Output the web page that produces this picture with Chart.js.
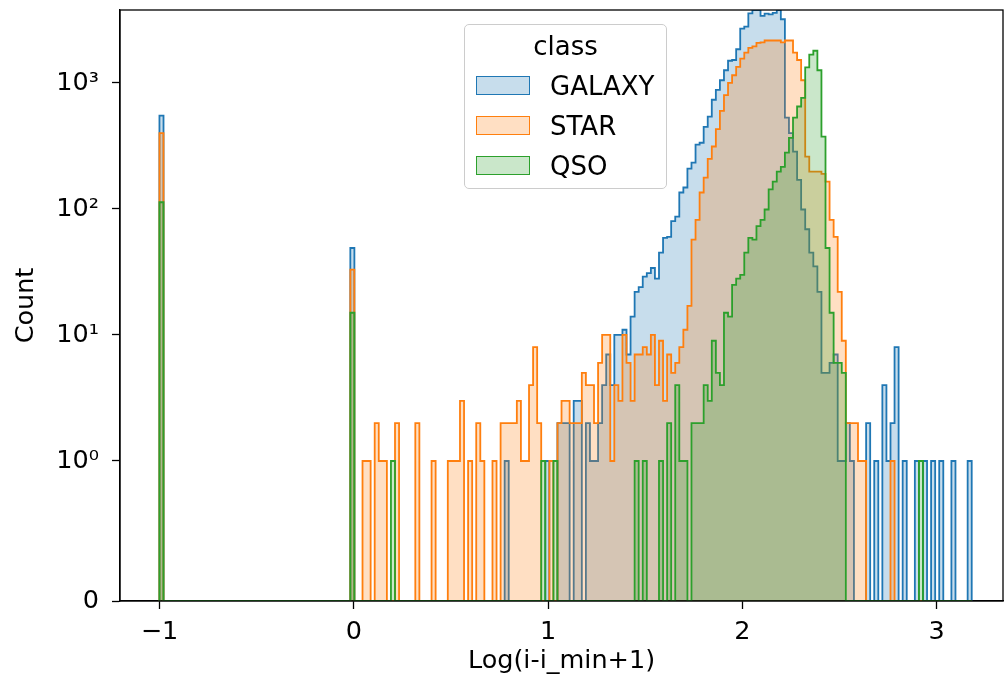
<!DOCTYPE html>
<html>
<head>
<meta charset="utf-8">
<script src="https://cdn.jsdelivr.net/npm/chart.js@4.4.1/dist/chart.umd.min.js"></script>
<style>
  body { margin: 0; background: #fff; }
  #wrap { position: relative; width: 1005px; height: 690px; }
  #legend {
    position: absolute; left: 464px; top: 24px; width: 201px; height: 163px;
    border: 1px solid #cccccc; border-radius: 5px; background: rgba(255,255,255,0.8);
    font-family: "DejaVu Sans", sans-serif; font-size: 26px; color: #000;
  }
  #legend .ttl { position: absolute; left: 0; width: 100%; top: 6px; text-align: center; }
  #legend .row { position: absolute; left: 11px; height: 30px; line-height: 30px; }
  #legend .sw { position: absolute; left: 0; top: 5px; width: 52px; height: 17px; border: 1.8px solid; }
  #legend .lbl { position: absolute; left: 74px; white-space: nowrap; }
</style>
</head>
<body>
<div id="wrap">
  <canvas id="chart" width="1005" height="690"></canvas>
  <div id="legend"></div>
</div>
<script>
// histogram bins: 200 equal bins from -1 to 3.18
const binStart = -1;
const binWidth = 0.0209;

const classes = ['GALAXY', 'STAR', 'QSO'];
const lineColors = ['#1f77b4', '#ff7f0e', '#2ca02c'];
const fillColors = ['rgba(31,119,180,0.25)', 'rgba(255,127,14,0.25)', 'rgba(44,160,44,0.25)'];

const galaxyCounts = [
  550,0,0,0,0,0,0,0,0,0,
  0,0,0,0,0,0,0,0,0,0,
  0,0,0,0,0,0,0,0,0,0,
  0,0,0,0,0,0,0,0,0,0,
  0,0,0,0,0,0,0,49,0,0,
  0,0,0,0,0,0,0,0,0,0,
  0,0,0,0,0,0,0,0,0,0,
  0,0,0,0,0,0,0,0,0,0,
  0,0,0,0,0,1,0,0,0,0,
  0,0,0,0,0,1,0,0,2,2,
  2,0,3,3,0,2,1,1,2,4,
  7,4,10,10,11,7,14,22,24,29,
  31,34,28,45,59,60,80,87,135,148,
  209,233,324,335,448,540,735,881,1050,1260,
  1500,1520,1850,2700,2800,3560,3790,3790,3400,3550,
  3500,3600,3790,3200,530,400,285,170,99,69,
  45,35,22,5,5,6,7,1,1,2,
  1,0,0,0,2,0,1,0,4,1,
  2,8,0,1,0,0,1,0,1,0,
  1,0,1,0,0,1,0,0,0,1
];

const starCounts = [
  400,0,0,0,0,0,0,0,0,0,
  0,0,0,0,0,0,0,0,0,0,
  0,0,0,0,0,0,0,0,0,0,
  0,0,0,0,0,0,0,0,0,0,
  0,0,0,0,0,0,0,33,0,0,
  1,1,0,2,1,1,0,0,2,0,
  0,0,0,2,0,0,0,1,0,0,
  0,1,1,1,3,0,1,0,2,1,
  0,0,1,0,2,2,2,2,3,1,
  1,4,8,2,0,0,1,0,2,3,
  3,2,2,2,5,4,4,2,6,10,
  10,1,4,3,10,6,3,7,7,8,
  7,10,4,9,3,7,5,6,8,11,
  17,57,82,135,177,250,313,430,600,800,
  1000,1150,1340,1560,1740,1900,1950,2080,2100,2170,
  2170,2170,2170,2100,2170,2170,1740,1520,1050,260,
  198,198,198,190,165,82,60,22,9,2,
  2,2,1,1,0,0,0,0,0,0,
  1,0,0,0,0,0,0,0,0,0,
  0,0,0,0,0,0,0,0,0,0
];

const qsoCounts = [
  113,0,0,0,0,0,0,0,0,0,
  0,0,0,0,0,0,0,0,0,0,
  0,0,0,0,0,0,0,0,0,0,
  0,0,0,0,0,0,0,0,0,0,
  0,0,0,0,0,0,0,15,0,0,
  0,0,0,0,0,0,0,1,0,0,
  0,0,0,0,0,0,0,0,0,0,
  0,0,0,0,0,0,0,0,0,0,
  0,0,0,0,0,0,0,0,0,0,
  0,0,0,0,1,0,0,1,0,0,
  0,0,0,0,0,0,0,0,0,0,
  0,0,0,0,0,0,0,1,0,1,
  0,0,0,1,0,2,0,4,1,1,
  0,2,2,2,4,3,9,5,4,15,
  14,25,28,30,45,59,57,73,82,99,
  143,165,198,216,280,366,530,650,760,1330,
  1680,1800,1260,375,49,15,6,6,5,0,
  0,0,0,0,0,0,0,0,0,0,
  0,0,0,0,0,0,0,1,0,0,
  0,0,0,0,0,0,0,0,0,0
];

const xTicks = [-1, 0, 1, 2, 3];
const yTicks = [0, 1, 10, 100, 1000];
const yTickLabels = ['0', '10\u2070', '10\u00b9', '10\u00b2', '10\u00b3'];
const xLabel = 'Log(i-i_min+1)';
const yLabel = 'Count';
const xMin = -1.203, xMax = 3.341;
const yMin = 0, yMax = 3790;

// symlog scale like matplotlib's (base 10, linthresh 1, linscale 1)
const LINSCALE = 1 / (1 - 1 / 10);
function symT(v) {
  const a = Math.abs(v);
  const t = a <= 1 ? a * LINSCALE : LINSCALE + Math.log10(a);
  return v < 0 ? -t : t;
}
function symInv(t) {
  const a = Math.abs(t);
  const v = a <= LINSCALE ? a / LINSCALE : Math.pow(10, a - LINSCALE);
  return t < 0 ? -v : v;
}

class SymlogScale extends Chart.LinearScale {
  buildTicks() {
    return yTicks.map(v => ({ value: v }));
  }
  configure() {
    super.configure();
    this._t0 = symT(this.min);
    this._t1 = symT(this.max);
  }
  getPixelForValue(v) {
    return this.getPixelForDecimal((symT(v) - this._t0) / (this._t1 - this._t0));
  }
  getValueForPixel(p) {
    return symInv(this._t0 + this.getDecimalForPixel(p) * (this._t1 - this._t0));
  }
}
SymlogScale.id = 'symlog';
SymlogScale.defaults = {};
Chart.register(SymlogScale);

function stepPoints(counts) {
  const pts = [{ x: binStart, y: 0 }];
  counts.forEach((c, i) => pts.push({ x: binStart + i * binWidth, y: c }));
  const end = binStart + counts.length * binWidth;
  pts.push({ x: end, y: counts[counts.length - 1] });
  pts.push({ x: end, y: 0 });
  return pts;
}

const seriesCounts = [galaxyCounts, starCounts, qsoCounts];

const spines = {
  id: 'spines',
  afterDatasetsDraw(chart) {
    const { ctx, chartArea: a } = chart;
    ctx.save();
    ctx.strokeStyle = '#000';
    ctx.lineWidth = 1.3;
    ctx.strokeRect(a.left, a.top, a.right - a.left, a.bottom - a.top);
    ctx.restore();
  }
};

const font = { family: '"DejaVu Sans", sans-serif', size: 25.5 };

new Chart(document.getElementById('chart'), {
  type: 'line',
  data: {
    datasets: classes.map((name, k) => ({
      label: name,
      data: stepPoints(seriesCounts[k]),
      borderColor: lineColors[k],
      backgroundColor: fillColors[k],
      borderWidth: 1.8,
      fill: 'origin',
      stepped: 'before',
      pointRadius: 0,
      tension: 0,
      order: 3 - k
    }))
  },
  options: {
    responsive: false,
    animation: false,
    layout: { padding: { top: 10, right: 2, left: 0, bottom: 0 } },
    plugins: { legend: { display: false }, tooltip: { enabled: false } },
    scales: {
      x: {
        type: 'linear', min: xMin, max: xMax,
        afterBuildTicks: s => { s.ticks = xTicks.map(v => ({ value: v })); },
        afterFit: s => { s.height = 89; s.paddingLeft = 0; s.paddingRight = 0; },
        grid: { drawOnChartArea: false, drawTicks: true, tickLength: 8, tickWidth: 1.3, tickColor: '#000' },
        border: { display: true, color: '#000', width: 1.3 },
        ticks: {
          font, color: '#000', padding: 8, maxRotation: 0, autoSkip: false,
          callback: v => (v < 0 ? '\u2212' + Math.abs(v) : String(v))
        },
        title: { display: true, text: xLabel, font, color: '#000', padding: { top: 0, bottom: 13 } }
      },
      y: {
        type: 'symlog', min: yMin, max: yMax,
        afterFit: s => { s.width = 120; s.paddingTop = 0; s.paddingBottom = 0; },
        grid: { drawOnChartArea: false, drawTicks: true, tickLength: 8, tickWidth: 1.3, tickColor: '#000' },
        border: { display: true, color: '#000', width: 1.3 },
        ticks: {
          font, color: '#000', padding: 13, autoSkip: false,
          callback: v => yTickLabels[yTicks.indexOf(v)]
        },
        title: { display: true, text: yLabel, font, color: '#000', padding: { top: 11, bottom: 0 } }
      }
    }
  },
  plugins: [spines]
});

// legend box (matplotlib style, inside the axes)
const legend = document.getElementById('legend');
legend.innerHTML = '<div class="ttl">class</div>' + classes.map((name, k) =>
  '<div class="row" style="top:' + (46 + k * 40) + 'px">' +
  '<span class="sw" style="border-color:' + lineColors[k] + ';background:' + fillColors[k] + '"></span>' +
  '<span class="lbl">' + name + '</span></div>').join('');
</script>
</body>
</html>
